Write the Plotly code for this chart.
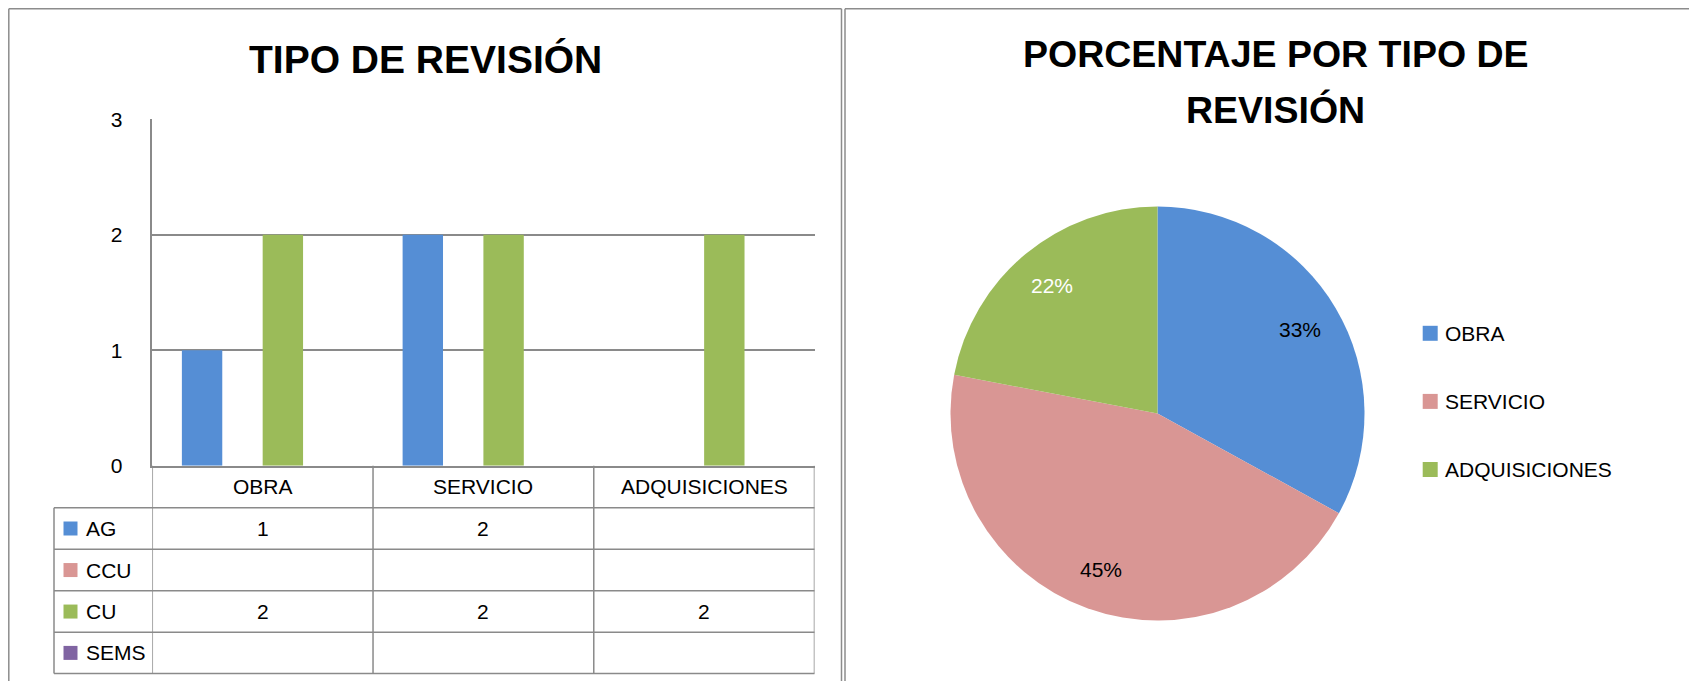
import math
import plotly.graph_objects as go

# ---------------- data ----------------
categories = ["OBRA", "SERVICIO", "ADQUISICIONES"]
series_names = ["AG", "CCU", "CU", "SEMS"]
ag_values = [1, 2, None]
ccu_values = [None, None, None]
cu_values = [2, 2, 2]
sems_values = [None, None, None]
series_colors = ["#558ED5", "#D99694", "#9BBB59", "#8064A2"]
y_ticks = [0, 1, 2, 3]

pie_labels = ["OBRA", "SERVICIO", "ADQUISICIONES"]
pie_values = [33, 45, 22]
pie_colors = ["#558ED5", "#D99694", "#9BBB59"]
pie_text_colors = ["black", "black", "white"]

bar_title = "TIPO DE REVISIÓN"
pie_title_lines = ["PORCENTAJE POR TIPO DE", "REVISIÓN"]

# ---------------- layout helpers ----------------
W, H = 1697, 681
OFF = 8  # page body margin of the rendered html
FONT = "Liberation Sans, Arial, sans-serif"
GRID = "#8a8a8a"


def px(x):
    return (x - OFF) / W


def py(y):
    return 1 - (y - OFF) / H


series_values = [ag_values, ccu_values, cu_values, sems_values]

fig = go.Figure()

for name, vals, col in zip(series_names, series_values, series_colors):
    fig.add_trace(go.Bar(x=categories, y=vals, name=name, marker_color=col,
                         marker_line_width=0, showlegend=False,
                         xaxis="x", yaxis="y"))

# pie geometry
pie_cx, pie_cy, pie_r = 1157.5, 413.5, 207
fig.add_trace(go.Pie(labels=pie_labels, values=pie_values,
                     marker=dict(colors=pie_colors, line=dict(width=0)),
                     sort=False, direction="clockwise", rotation=0,
                     textinfo="none", hoverinfo="label+percent",
                     showlegend=False, automargin=False,
                     domain=dict(x=[px(pie_cx - pie_r), px(pie_cx + pie_r)],
                                 y=[py(pie_cy + pie_r), py(pie_cy - pie_r)])))

shapes = []
annotations = []


def line(x0, y0, x1, y1, color="#8c8c8c", width=1.5, xref="paper"):
    shapes.append(dict(type="line", xref=xref, yref="paper",
                       x0=x0, y0=y0, x1=x1, y1=y1,
                       line=dict(color=color, width=width), layer="above"))


# panel borders
line(px(8.8), py(8.8), px(841.5), py(8.8))
line(px(8.8), py(8.8), px(8.8), py(688))
line(px(841.5), py(8.8), px(841.5), py(688))
line(px(845), py(8.8), px(1704), py(8.8))
line(px(845), py(8.8), px(845), py(688))

# data table below bar chart
axis_bottom = 465.7
row_edges = [507.7, 549.3, 590.8, 632.3, 673.5]
leg_left = 54
plot_left, plot_right = 152.3, 814.5

for y in row_edges:
    line(px(leg_left), py(y), px(plot_right), py(y), color=GRID)
line(px(leg_left), py(row_edges[0]), px(leg_left), py(row_edges[-1]), color=GRID)
for k in range(len(categories) + 1):
    xb = k - 0.5
    line(xb, py(axis_bottom), xb, py(row_edges[-1]), color=GRID, xref="x")

# header labels
for i, c in enumerate(categories):
    annotations.append(dict(x=i, xref="x", y=py((axis_bottom + row_edges[0]) / 2),
                            yref="paper", text=c, showarrow=False,
                            font=dict(family=FONT, size=21, color="black"),
                            xanchor="center", yanchor="middle"))

for j, (name, vals, col) in enumerate(zip(series_names, series_values, series_colors)):
    yc = (row_edges[j] + row_edges[j + 1]) / 2
    shapes.append(dict(type="rect", xref="paper", yref="paper",
                       x0=px(63.5), x1=px(77.5), y0=py(yc + 7), y1=py(yc - 7),
                       fillcolor=col, line=dict(width=0)))
    annotations.append(dict(x=px(84), xref="paper", y=py(yc), yref="paper",
                            text=name, showarrow=False, xanchor="left",
                            yanchor="middle",
                            font=dict(family=FONT, size=21, color="black")))
    for i, v in enumerate(vals):
        if v is not None:
            annotations.append(dict(x=i, xref="x", y=py(yc), yref="paper",
                                    text=str(v), showarrow=False,
                                    xanchor="center", yanchor="middle",
                                    font=dict(family=FONT, size=21, color="black")))

# titles
annotations.append(dict(x=px(425), y=py(59), xref="paper", yref="paper",
                        text="<b>" + bar_title + "</b>", showarrow=False,
                        font=dict(family=FONT, size=39, color="black"),
                        xanchor="center", yanchor="middle"))
for line_text, yc in zip(pie_title_lines, [54, 109.7]):
    annotations.append(dict(x=px(1275.5), y=py(yc), xref="paper", yref="paper",
                            text="<b>" + line_text + "</b>", showarrow=False,
                            font=dict(family=FONT, size=37.5, color="black"),
                            xanchor="center", yanchor="middle"))

# pie percentage labels computed from the values
total = sum(pie_values)
cum = 0
for v, tc in zip(pie_values, pie_text_colors):
    mid = 2 * math.pi * (cum + v / 2) / total
    cum += v
    lx = pie_cx + 0.8 * pie_r * math.sin(mid)
    ly = pie_cy - 0.8 * pie_r * math.cos(mid)
    annotations.append(dict(x=px(lx), y=py(ly), xref="paper", yref="paper",
                            text=f"{round(100 * v / total)}%", showarrow=False,
                            xanchor="center", yanchor="middle",
                            font=dict(family=FONT, size=21, color=tc)))

# pie legend
leg_y0, leg_step = 333.3, 68.1
for k, (lab, col) in enumerate(zip(pie_labels, pie_colors)):
    yc = leg_y0 + k * leg_step
    shapes.append(dict(type="rect", xref="paper", yref="paper",
                       x0=px(1422.7), x1=px(1437.7), y0=py(yc + 7.5), y1=py(yc - 7.5),
                       fillcolor=col, line=dict(width=0)))
    annotations.append(dict(x=px(1443), y=py(yc), xref="paper", yref="paper",
                            text=lab, showarrow=False, xanchor="left",
                            yanchor="middle",
                            font=dict(family=FONT, size=21, color="black")))

fig.update_layout(
    width=W, height=H,
    margin=dict(l=0, r=0, t=0, b=0, pad=0, autoexpand=False),
    paper_bgcolor="white", plot_bgcolor="white",
    showlegend=False,
    barmode="group", bargap=0.268, bargroupgap=0,
    font=dict(family=FONT, size=21, color="black"),
    xaxis=dict(domain=[px(plot_left), px(plot_right)], range=[-0.5, 2.5],
               showticklabels=False, ticks="", showgrid=False, zeroline=False,
               showline=True, linecolor=GRID, linewidth=1.5, fixedrange=True,
               automargin=False),
    yaxis=dict(domain=[py(axis_bottom), py(119.3)], range=[0, 3],
               tickvals=y_ticks, ticks="", showgrid=True, gridcolor=GRID,
               gridwidth=1.5, zeroline=False, showline=True, linecolor=GRID,
               linewidth=1.5, ticklabelstandoff=24, automargin=False,
               tickfont=dict(family=FONT, size=21, color="black")),
    shapes=shapes, annotations=annotations,
)

fig.write_html("out.html")
